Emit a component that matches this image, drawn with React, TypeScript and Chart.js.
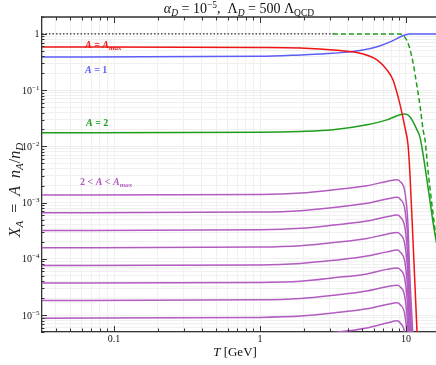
import React, { useEffect, useRef } from "react";
import { Chart, registerables } from "chart.js";
Chart.register(...registerables);

// ---------- axis ranges and tick labels ----------
const xMin = 0.0321;
const xMax = 17.1;
const yMin = 5e-6;
const yMax = 2;

const xTickValues = [0.1, 1, 10];
const xTickLabels = ["0.1", "1", "10"];
const yTickValues = [1, 1e-1, 1e-2, 1e-3, 1e-4, 1e-5];
const yTickBases = ["1", "10", "10", "10", "10", "10"];
const yTickExps = ["", "−1", "−2", "−3", "−4", "−5"];

// ---------- data (T in GeV, X_A) ----------
const tDotted = [0.0321, 3.3];
const dottedVals = [1, 1];

const tRed = [0.0321, 1, 1.88, 3.53, 4.84, 6.33, 7.4, 8.15, 8.83, 9.38, 9.85, 10.33, 10.66, 11.16, 11.9, 12.6];
const redVals = [0.585, 0.575, 0.564, 0.505, 0.454, 0.345, 0.229, 0.152, 0.076, 0.0395, 0.0213, 0.0106, 0.003, 2.2e-4, 5e-6, 1e-7];

const tBlue = [0.0321, 1, 1.88, 3.16, 4.84, 6.6, 8.15, 9.5, 10.6, 17.1];
const blueVals = [0.39, 0.4, 0.424, 0.454, 0.505, 0.612, 0.76, 0.93, 1.0, 1.0];

const tGreen = [0.0321, 1, 1.88, 3.16, 5.4, 7.4, 9.1, 9.85, 10.6, 11.9, 12.5, 13.9, 15.3, 15.9, 17.1];
const greenVals = [0.0175, 0.0178, 0.0184, 0.0197, 0.0242, 0.0296, 0.0365, 0.0375, 0.0339, 0.0197, 0.0142, 2.58e-3, 4.6e-4, 2.5e-4, 9e-5];

const tGreenDash = [3.16, 9.1, 9.6, 10.1, 10.6, 11.2, 11.8, 12.5, 13.1, 13.5, 14.2, 15.0, 15.8, 17.1];
const greenDashVals = [1, 1, 0.93, 0.78, 0.557, 0.3, 0.133, 0.051, 0.0197, 0.0131, 3.4e-3, 1.0e-3, 3.3e-4, 6.3e-5];

const tPurple = [0.0321, 1, 1.9, 3.2, 5.4, 7.4, 8.7, 9.1, 9.85, 10.3, 10.6, 11.2];
const purple1 = [1.36e-3, 1.4e-3, 1.48e-3, 1.69e-3, 2.0e-3, 2.38e-3, 2.55e-3, 2.38e-3, 1.5e-3, 4.4e-4, 5.7e-5, 3.5e-6];
const purple2 = [6.6e-4, 6.8e-4, 7.2e-4, 8.2e-4, 9.7e-4, 1.16e-3, 1.24e-3, 1.16e-3, 7.3e-4, 2.1e-4, 2.8e-5, 1.7e-6];
const purple3 = [3.2e-4, 3.3e-4, 3.5e-4, 4.0e-4, 4.7e-4, 5.6e-4, 6.0e-4, 5.6e-4, 3.5e-4, 1.0e-4, 1.35e-5, 8.3e-7];
const purple4 = [1.57e-4, 1.62e-4, 1.71e-4, 1.95e-4, 2.3e-4, 2.75e-4, 2.95e-4, 2.75e-4, 1.73e-4, 5.0e-5, 6.6e-6, 4e-7];
const purple5 = [7.6e-5, 7.8e-5, 8.3e-5, 9.4e-5, 1.12e-4, 1.33e-4, 1.43e-4, 1.33e-4, 8.4e-5, 2.4e-5, 3.2e-6, 2e-7];
const purple6 = [3.7e-5, 3.8e-5, 4.0e-5, 4.6e-5, 5.4e-5, 6.5e-5, 6.9e-5, 6.5e-5, 4.1e-5, 1.2e-5, 1.55e-6, 1e-7];
const purple7 = [1.82e-5, 1.87e-5, 1.98e-5, 2.26e-5, 2.68e-5, 3.2e-5, 3.4e-5, 3.2e-5, 2.0e-5, 5.8e-6, 7.6e-7, 5e-8];
const purple8 = [8.8e-6, 9.1e-6, 9.6e-6, 1.09e-5, 1.29e-5, 1.54e-5, 1.65e-5, 1.54e-5, 9.7e-6, 2.8e-6, 3.7e-7, 2.3e-8];
const purple9 = [4.0e-6, 4.1e-6, 4.4e-6, 4.9e-6, 5.9e-6, 7.2e-6, 7.9e-6, 7.3e-6, 4.5e-6, 1.3e-6, 1.7e-7, 1e-8];
const purpleSeries = [purple1, purple2, purple3, purple4, purple5, purple6, purple7, purple8, purple9];

// ---------- styles ----------
const RED = "#f01414";
const BLUE = "#5c5ef6";
const GREEN = "#1c9e1c";
const PURPLE = "#b25cc0";
const FRAME = "#333333";
const GRID = "#f0f0f0";
const FAM = '"Liberation Serif", "Times New Roman", serif';

type Run = { t: string; s: number; i?: boolean; b?: boolean; dy?: number };
const fontOf = (r: Run) => `${r.i ? "italic " : ""}${r.b ? "bold " : ""}${r.s}px ${FAM}`;
function runsWidth(ctx: CanvasRenderingContext2D, runs: Run[]) {
  let w = 0;
  for (const r of runs) {
    ctx.font = fontOf(r);
    w += ctx.measureText(r.t).width;
  }
  return w;
}
function drawRuns(ctx: CanvasRenderingContext2D, runs: Run[], x: number, y: number, align: string, color: string) {
  const w = runsWidth(ctx, runs);
  let cx = align === "left" ? x : align === "center" ? x - w / 2 : x - w;
  ctx.fillStyle = color;
  ctx.textAlign = "left";
  ctx.textBaseline = "alphabetic";
  for (const r of runs) {
    ctx.font = fontOf(r);
    ctx.fillText(r.t, cx, y + (r.dy || 0));
    cx += ctx.measureText(r.t).width;
  }
}

function decadeGrid(lo: number, hi: number) {
  const out: number[] = [];
  for (let e = -7; e <= 2; e++) {
    for (let m = 1; m <= 9; m++) {
      const v = parseFloat((m * Math.pow(10, e)).toPrecision(6));
      if (v >= lo * 0.9999 && v <= hi * 1.0001) out.push(v);
    }
  }
  return out;
}
const xGrid = decadeGrid(xMin, xMax);
const yGrid = decadeGrid(yMin, yMax);
const isMajor = (v: number) => Math.abs(Math.log10(v) - Math.round(Math.log10(v))) < 1e-6;

const pts = (ts: number[], vs: number[]) => ts.map((t, i) => ({ x: t, y: vs[i] }));

const decor = {
  id: "decor",
  afterDraw(chart: any) {
    const ctx: CanvasRenderingContext2D = chart.ctx;
    const { left, right, top, bottom } = chart.chartArea;
    const xs = chart.scales.x;
    const ys = chart.scales.y;
    ctx.save();
    // top frame
    ctx.strokeStyle = FRAME;
    ctx.lineWidth = 1.3;
    ctx.beginPath();
    ctx.moveTo(left, top);
    ctx.lineTo(right, top);
    ctx.stroke();
    // inside ticks
    ctx.lineWidth = 1;
    ctx.beginPath();
    for (const v of xGrid) {
      const px = Math.round(xs.getPixelForValue(v)) + 0.5;
      const len = isMajor(v) ? 6 : 3.5;
      ctx.moveTo(px, bottom);
      ctx.lineTo(px, bottom - len);
      ctx.moveTo(px, top);
      ctx.lineTo(px, top + len);
    }
    for (const v of yGrid) {
      const py = Math.round(ys.getPixelForValue(v)) + 0.5;
      const len = isMajor(v) ? 5 : 2.5;
      ctx.moveTo(left, py);
      ctx.lineTo(left + len, py);
    }
    ctx.stroke();
    // x tick labels
    xTickValues.forEach((v, i) => {
      drawRuns(ctx, [{ t: xTickLabels[i], s: 10 }], xs.getPixelForValue(v), 342, "center", "#111");
    });
    // y tick labels
    yTickValues.forEach((v, i) => {
      const py = ys.getPixelForValue(v);
      const runs: Run[] = [{ t: yTickBases[i], s: 10 }];
      if (yTickExps[i]) runs.push({ t: yTickExps[i], s: 7, dy: -4 });
      drawRuns(ctx, runs, 39.5, py + 3.5, "right", "#111");
    });
    // title
    drawRuns(
      ctx,
      [
        { t: "α", s: 14, i: true },
        { t: "D", s: 9.5, i: true, dy: 2.5 },
        { t: " = 10", s: 14 },
        { t: "−5", s: 9.5, dy: -5.5 },
        { t: ",  Λ", s: 14 },
        { t: "D", s: 9.5, i: true, dy: 2.5 },
        { t: " = 500 Λ", s: 14 },
        { t: "QCD", s: 9.5, dy: 2.5 },
      ],
      239,
      13,
      "center",
      "#111"
    );
    // x title
    drawRuns(ctx, [{ t: "T", s: 13, i: true }, { t: " [GeV]", s: 13 }], 235, 356, "center", "#111");
    // y title
    ctx.save();
    ctx.translate(19.5, 190);
    ctx.rotate(-Math.PI / 2);
    drawRuns(
      ctx,
      [
        { t: "X", s: 16, i: true },
        { t: "A", s: 11, i: true, dy: 3.5 },
        { t: "  =  ", s: 16 },
        { t: "A", s: 16, i: true },
        { t: "  ", s: 16 },
        { t: "n", s: 16, i: true },
        { t: "A", s: 11, i: true, dy: 3.5 },
        { t: "/", s: 16 },
        { t: "n", s: 16, i: true },
        { t: "D", s: 11, i: true, dy: 3.5 },
      ],
      0,
      0,
      "center",
      "#1a1a1a"
    );
    ctx.restore();
    // curve labels
    drawRuns(
      ctx,
      [
        { t: "A", s: 10, i: true, b: true },
        { t: " = ", s: 10, b: true },
        { t: "A", s: 10, i: true, b: true },
        { t: "max", s: 7, i: true, b: true, dy: 2 },
      ],
      85,
      48,
      "left",
      RED
    );
    drawRuns(ctx, [{ t: "A", s: 10, i: true, b: true }, { t: " = 1", s: 10, b: true }], 85, 73, "left", BLUE);
    drawRuns(ctx, [{ t: "A", s: 10, i: true, b: true }, { t: " = 2", s: 10, b: true }], 86, 126, "left", GREEN);
    drawRuns(
      ctx,
      [
        { t: "2 < ", s: 10, b: true },
        { t: "A", s: 10, i: true, b: true },
        { t: " < ", s: 10, b: true },
        { t: "A", s: 10, i: true, b: true },
        { t: "max", s: 7, i: true, b: true, dy: 2 },
      ],
      80,
      185,
      "left",
      PURPLE
    );
    ctx.restore();
  },
};

export default function App() {
  const ref = useRef<HTMLCanvasElement | null>(null);
  useEffect(() => {
    if (!ref.current) return;
    const line = (data: any, color: string, extra: any = {}) => ({
      data,
      borderColor: color,
      backgroundColor: color,
      borderWidth: 1.5,
      pointRadius: 0,
      fill: false,
      cubicInterpolationMode: "monotone",
      ...extra,
    });
    const datasets: any[] = [
      line(pts(tRed, redVals), RED),
      line(pts(tBlue, blueVals), BLUE),
      line(pts(tGreen, greenVals), GREEN),
      line(pts(tGreenDash, greenDashVals), GREEN, { borderDash: [5, 3] }),
      ...purpleSeries.map((s) => line(pts(tPurple, s), PURPLE)),
      line(pts(tDotted, dottedVals), "#333", { borderDash: [1.5, 2], borderWidth: 1.2 }),
    ];
    const chart = new Chart(ref.current, {
      type: "line",
      data: { datasets },
      options: {
        responsive: false,
        animation: false,
        events: [],
        layout: { padding: { top: 17, left: 0, right: 0, bottom: 0 } },
        plugins: { legend: { display: false }, tooltip: { enabled: false }, title: { display: false } },
        scales: {
          x: {
            type: "logarithmic",
            min: xMin,
            max: xMax,
            afterBuildTicks: (s: any) => {
              s.ticks = xGrid.map((v) => ({ value: v }));
            },
            afterFit: (s: any) => {
              s.height = 33;
            },
            ticks: { display: false },
            grid: { color: GRID, drawTicks: false, lineWidth: 1 },
            border: { color: FRAME, width: 1.3 },
          },
          y: {
            type: "logarithmic",
            min: yMin,
            max: yMax,
            afterBuildTicks: (s: any) => {
              s.ticks = yGrid.map((v) => ({ value: v }));
            },
            afterFit: (s: any) => {
              s.width = 42;
            },
            ticks: { display: false },
            grid: { color: GRID, drawTicks: false, lineWidth: 1 },
            border: { color: FRAME, width: 1.3 },
          },
        },
      } as any,
      plugins: [decor],
    });
    return () => chart.destroy();
  }, []);
  return (
    <div style={{ position: "fixed", left: 0, top: 0, width: 436, height: 365, overflow: "hidden", background: "#fff" }}>
      <canvas ref={ref} width={440} height={365} style={{ display: "block", width: 440, height: 365 }} />
    </div>
  );
}
